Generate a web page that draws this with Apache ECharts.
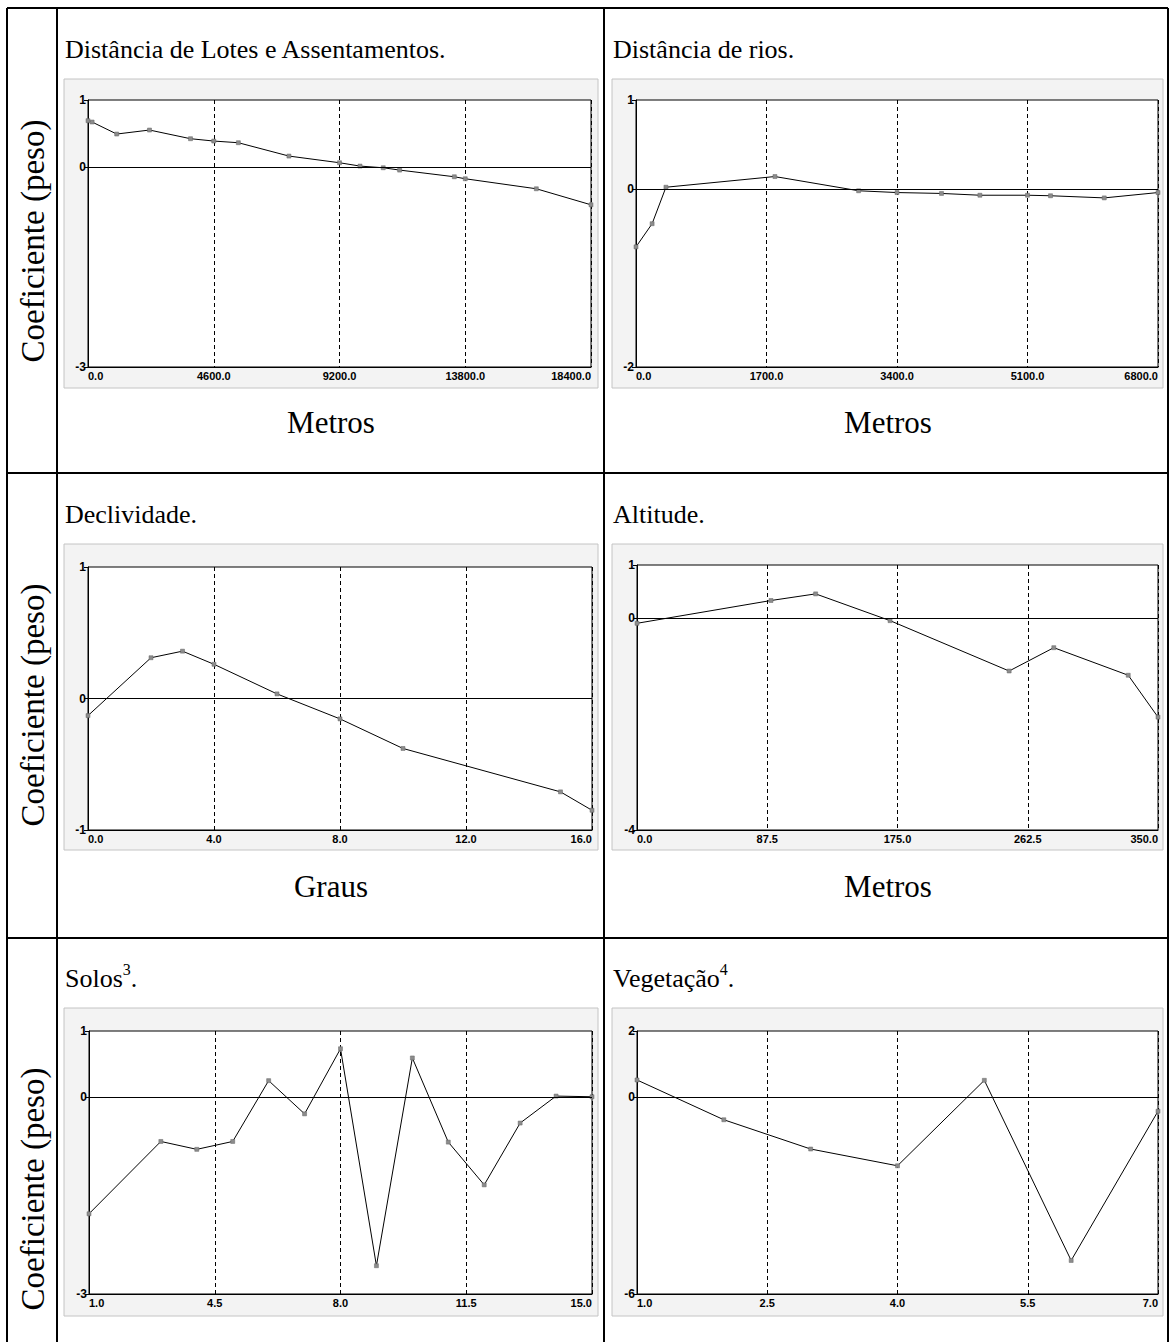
<!DOCTYPE html>
<html>
<head>
<meta charset="utf-8">
<script src="https://cdn.jsdelivr.net/npm/echarts@6/dist/echarts.min.js"></script>
<style>
html,body{margin:0;padding:0;background:#fff;}
#c{width:1171px;height:1342px;}
</style>
</head>
<body>
<div id="c"></div>
<script>
// ---- data ----
const lotesX = [0,150,1050,2250,3750,4600,5500,7350,9200,9950,10800,11400,13400,13800,16400,18400];
const lotesY = [0.69,0.67,0.49,0.55,0.42,0.385,0.36,0.16,0.06,0.01,-0.015,-0.05,-0.15,-0.18,-0.33,-0.57];
const riosX = [0,210,390,1810,2900,3400,3980,4480,5100,5400,6100,6800];
const riosY = [-0.65,-0.39,0.02,0.14,-0.02,-0.04,-0.05,-0.07,-0.07,-0.076,-0.10,-0.04];
const declX = [0,2,3,4,6,8,10,15,16];
const declY = [-0.13,0.31,0.36,0.26,0.035,-0.155,-0.38,-0.71,-0.85];
const altX = [0,90,120,170,250,280,330,350];
const altY = [-0.10,0.33,0.455,-0.05,-1.0,-0.56,-1.08,-1.87];
const solosX = [1,3,4,5,6,7,8,9,10,11,12,13,14,15];
const solosY = [-1.78,-0.68,-0.80,-0.68,0.245,-0.26,0.73,-2.57,0.59,-0.69,-1.34,-0.40,0.01,0.0];
const vegX = [1,2,3,4,5,6,7];
const vegY = [0.51,-0.70,-1.59,-2.10,0.50,-4.98,-0.44];

const titles = ['Distância de Lotes e Assentamentos.','Distância de rios.','Declividade.','Altitude.','Solos','Vegetação'];
const titleSup = ['','','','','3','4'];
const xNames = ['Metros','Metros','Graus','Metros','',''];
const yName = 'Coeficiente (peso)';
const xRanges = [[0,18400],[0,6800],[0,16],[0,350],[1,15],[1,7]];
const yRanges = [[-3,1],[-2,1],[-1,1],[-4,1],[-3,1],[-6,2]];

// ---- layout ----
const grids = [
  {left:88, top:100, width:503, height:267},
  {left:636, top:100, width:522, height:267},
  {left:88, top:567, width:504, height:263},
  {left:637, top:565, width:521, height:265},
  {left:89, top:1031, width:503, height:263},
  {left:637, top:1031, width:521, height:263}
];
const panels = [
  {x:64,y:79,w:534,h:309},{x:612,y:79,w:551,h:309},
  {x:64,y:544,w:534,h:306},{x:612,y:544,w:551,h:306},
  {x:64,y:1008,w:534,h:308},{x:612,y:1008,w:551,h:308}
];
const titlePos = [[65,47],[613,47],[65,512],[613,512],[65,976],[613,976]];
const xNamePos = [[331,422],[888,422],[331,886],[888,886]];
const rowCenters = [241,705,1189];

const seriesData = [[lotesX,lotesY],[riosX,riosY],[declX,declY],[altX,altY],[solosX,solosY],[vegX,vegY]];

const chart = echarts.init(document.getElementById('c'), null, {renderer:'svg', width:1171, height:1342});

const tickFont = {fontFamily:'Liberation Sans, Arial, sans-serif', fontWeight:'bold', fontSize:11, color:'#000'};
const serif = 'Liberation Serif, Times New Roman, serif';

const graphic = [];
panels.forEach(p=>{
  graphic.push({type:'rect', shape:{x:p.x,y:p.y,width:p.w,height:p.h}, style:{fill:'#f3f3f3', stroke:'#c4c4c4', lineWidth:1}, z:-10});
});
const lines = [
  [7,8,1168,8],[7,8,7,1342],[57,8,57,1342],[604,8,604,1342],[1168,8,1168,1342],
  [7,473,1168,473],[7,938,1168,938]
];
lines.forEach(l=>graphic.push({type:'line', shape:{x1:l[0],y1:l[1],x2:l[2],y2:l[3]}, style:{stroke:'#000', lineWidth:2}, z:50}));
titles.forEach((t,i)=>{
  const sup = titleSup[i];
  const txt = sup ? '{a|'+t+'}{s|'+sup+'}{a|.}' : '{a|'+t+'}';
  graphic.push({type:'text', x:titlePos[i][0], y:titlePos[i][1], z:60, style:{
    text: txt, textVerticalAlign:'middle', rich:{
      a:{fontFamily:serif, fontSize:26, color:'#000', lineHeight:30, verticalAlign:'bottom'},
      s:{fontFamily:serif, fontSize:16, color:'#000', lineHeight:30, verticalAlign:'top'}
    }
  }});
});
xNames.forEach((n,i)=>{
  if(!n) return;
  graphic.push({type:'text', x:xNamePos[i][0], y:xNamePos[i][1], z:60, style:{
    text:n, fontFamily:serif, fontSize:31, fill:'#000', textAlign:'center', textVerticalAlign:'middle'
  }});
});
rowCenters.forEach(cy=>{
  graphic.push({type:'text', x:33, y:cy, rotation:Math.PI/2, z:60, style:{
    text:yName, fontFamily:serif, fontSize:33, fill:'#000', textAlign:'center', textVerticalAlign:'middle'
  }});
});

const xAxis=[], yAxis=[], series=[];
grids.forEach((g,i)=>{
  const [xmin,xmax]=xRanges[i];
  const [ymin,ymax]=yRanges[i];
  xAxis.push({type:'value', gridIndex:i, min:xmin, max:xmax, interval:(xmax-xmin)/4,
    axisLine:{show:true, onZero:false, lineStyle:{color:'#000', width:1}},
    axisTick:{show:false},
    axisLabel:Object.assign({formatter:v=>v.toFixed(1), margin:3, alignMinLabel:'left', alignMaxLabel:'right', showMinLabel:true, showMaxLabel:true}, tickFont),
    splitLine:{show:true, lineStyle:{color:'#000', width:1, type:[4,3]}}
  });
  yAxis.push({type:'value', gridIndex:i, min:ymin, max:ymax,
    axisLine:{show:true, onZero:false, lineStyle:{color:'#000', width:1}},
    axisTick:{show:true, length:4, customValues:[ymin,0,ymax], lineStyle:{color:'#000'}},
    axisLabel:Object.assign({customValues:[ymin,0,ymax], margin:2, formatter:v=>String(v)}, tickFont, {fontSize:12}),
    splitLine:{show:false}
  });
  const [xs,ys]=seriesData[i];
  series.push({type:'line', xAxisIndex:i, yAxisIndex:i, data: xs.map((x,k)=>[x,ys[k]]),
    symbol:'rect', symbolSize:4, showSymbol:true, animation:false, silent:true,
    lineStyle:{color:'#000', width:1}, itemStyle:{color:'#8c8c8c', borderColor:'#666', borderWidth:0.5},
    markLine:{silent:true, symbol:'none', animation:false, label:{show:false}, lineStyle:{color:'#000', type:'solid', width:1}, data:[{yAxis:0}]}
  });
});

chart.setOption({
  animation:false,
  backgroundColor:'#fff',
  grid: grids.map(g=>Object.assign({show:true, backgroundColor:'#fff', borderColor:'#000', borderWidth:1, containLabel:false}, g)),
  xAxis, yAxis, series, graphic
});
</script>
</body>
</html>
